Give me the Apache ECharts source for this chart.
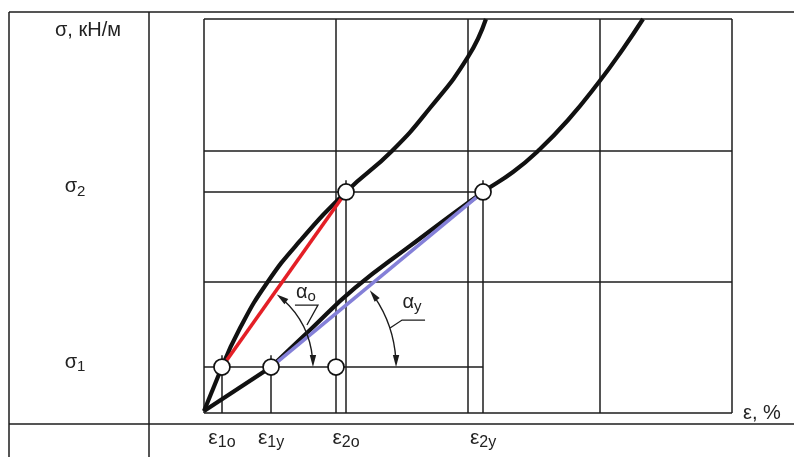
<!DOCTYPE html>
<html>
<head>
<meta charset="utf-8">
<script src="https://cdn.jsdelivr.net/npm/echarts@6/dist/echarts.min.js"></script>
<style>
html, body { margin: 0; padding: 0; background: #fff; }
#chart { width: 794px; height: 457px; }
</style>
</head>
<body>
<div id="chart"></div>
<script>
// grid units: 1 cell = 1 on each axis
var epsSubs = ['1o', '1y', '2o', '2y'];
var epsValues = [0.136, 0.508, 1.076, 2.114];
var sigmaSubs = ['1', '2'];
var sigmaValues = [0.35, 1.683];

var upperCurve = [[0, 0.015], [0.136, 0.35], [0.273, 0.647], [0.477, 0.99], [0.727, 1.31],
  [1.076, 1.683], [1.424, 1.995], [1.712, 2.322], [2.0, 2.711], [2.136, 3.0]];
var lowerCurve = [[0, 0.015], [0.508, 0.35], [0.803, 0.632], [1.144, 0.952], [1.561, 1.272],
  [2.114, 1.683], [2.341, 1.835], [2.53, 1.995], [2.758, 2.231], [2.992, 2.52],
  [3.174, 2.772], [3.326, 3.0]];

var secantO = [[0.136, 0.35], [1.076, 1.683]];
var secantY = [[0.508, 0.35], [2.114, 1.683]];
var markers = [[0.136, 0.35], [0.508, 0.35], [1.0, 0.35], [1.076, 1.683], [2.114, 1.683]];

// angle marks: vertex x, vertex y, point on secant x, y
var angleMarks = [[0.136, 0.35, 1.076, 1.683], [0.508, 0.35, 2.114, 1.683]];
var angleSubs = ['o', 'y'];

var INK = '#1c1c1c';
var FONT = 'Liberation Sans, Arial, sans-serif';
var tickExt = 0.09;

var guides = [
  [[0, sigmaValues[0]], [epsValues[3], sigmaValues[0]]],
  [[0, sigmaValues[1]], [epsValues[3], sigmaValues[1]]],
  [[epsValues[0], 0], [epsValues[0], sigmaValues[0] + tickExt]],
  [[epsValues[1], 0], [epsValues[1], sigmaValues[0] + tickExt]],
  [[epsValues[2], 0], [epsValues[2], sigmaValues[1] + tickExt]],
  [[epsValues[3], 0], [epsValues[3], sigmaValues[1] + tickExt]]
];

// pixel layout of angle arcs and their labels (relative to the vertex)
var arcLayout = [
  {r: 91, label: [84, -75], leader: [[73, -62], [96, -62], [85, -42]]},
  {r: 125, label: [141, -65], leader: [[154, -47], [131, -47], [119, -39]]}
];

var richSub = {
  a: {fontSize: 20, fontFamily: FONT, lineHeight: 26, color: '#222', fill: '#222'},
  s: {fontSize: 15, fontFamily: FONT, lineHeight: 26, padding: [10, 0, 0, 0], color: '#222', fill: '#222'}
};
var richAxisX = {
  a: {fontSize: 21, fontFamily: FONT, lineHeight: 26, color: '#222'},
  s: {fontSize: 16, fontFamily: FONT, lineHeight: 26, padding: [10, 0, 0, 0], color: '#222'}
};

function nearest(arr, v) {
  var best = 0;
  for (var i = 1; i < arr.length; i++) {
    if (Math.abs(arr[i] - v) < Math.abs(arr[best] - v)) best = i;
  }
  return best;
}

function arrowHead(tip, dir, len, half) {
  var bx = tip[0] - dir[0] * len, by = tip[1] - dir[1] * len;
  return [[tip[0], tip[1]], [bx - dir[1] * half, by + dir[0] * half], [bx + dir[1] * half, by - dir[0] * half]];
}

var chart = echarts.init(document.getElementById('chart'));

chart.setOption({
  animation: false,
  backgroundColor: '#fff',
  grid: {left: 204, right: 62, top: 19, bottom: 44, containLabel: false},
  xAxis: [{
    type: 'value', min: 0, max: 4, interval: 1,
    axisLine: {show: false}, axisTick: {show: false}, axisLabel: {show: false},
    splitLine: {show: true, lineStyle: {color: INK, width: 1.5}},
    name: 'ε, %', nameLocation: 'end', nameGap: 0,
    nameTextStyle: {fontSize: 20, fontFamily: FONT, color: '#222', align: 'center', verticalAlign: 'middle', padding: [58, 0, 0, 60]}
  }, {
    type: 'value', min: 0, max: 4, position: 'bottom',
    axisLine: {show: false}, axisTick: {show: false}, splitLine: {show: false},
    axisLabel: {
      show: true, customValues: epsValues, margin: 12,
      formatter: function (v) { return '{a|ε}{s|' + epsSubs[nearest(epsValues, v)] + '}'; },
      rich: richAxisX
    }
  }],
  yAxis: [{
    type: 'value', min: 0, max: 3, interval: 1,
    axisLine: {show: false}, axisTick: {show: false}, axisLabel: {show: false},
    splitLine: {show: true, lineStyle: {color: INK, width: 1.5}},
    name: 'σ, кН/м', nameLocation: 'end', nameGap: -11,
    nameTextStyle: {fontSize: 20, fontFamily: FONT, color: '#222', align: 'center', verticalAlign: 'middle', padding: [0, 232, 0, 0]}
  }, {
    type: 'value', min: 0, max: 3, position: 'left',
    axisLine: {show: false}, axisTick: {show: false}, splitLine: {show: false},
    axisLabel: {
      show: true, customValues: sigmaValues, margin: 129, align: 'center', padding: [0, 0, 10, 0],
      formatter: function (v) { return '{a|σ}{s|' + sigmaSubs[nearest(sigmaValues, v)] + '}'; },
      rich: richSub
    }
  }],
  graphic: [
    {type: 'line', shape: {x1: 9, y1: 12, x2: 794, y2: 12}, style: {stroke: INK, lineWidth: 1.5}},
    {type: 'line', shape: {x1: 9, y1: 12, x2: 9, y2: 457}, style: {stroke: INK, lineWidth: 1.5}},
    {type: 'line', shape: {x1: 149, y1: 12, x2: 149, y2: 457}, style: {stroke: INK, lineWidth: 1.5}},
    {type: 'line', shape: {x1: 9, y1: 424, x2: 794, y2: 424}, style: {stroke: INK, lineWidth: 1.5}}
  ],
  series: [
    {
      type: 'lines', coordinateSystem: 'cartesian2d', z: 1,
      lineStyle: {color: INK, width: 1.5, opacity: 1},
      data: guides.map(function (g) { return {coords: g}; })
    },
    {type: 'line', data: upperCurve.slice(0, 2), smooth: false, symbol: 'none', z: 3,
      lineStyle: {color: '#111', width: 4.2}},
    {type: 'line', data: upperCurve.slice(1), smooth: 0.5, symbol: 'none', z: 3,
      lineStyle: {color: '#111', width: 4.2}},
    {type: 'line', data: lowerCurve.slice(0, 2), smooth: false, symbol: 'none', z: 3,
      lineStyle: {color: '#111', width: 4.2}},
    {type: 'line', data: lowerCurve.slice(1), smooth: 0.5, symbol: 'none', z: 3,
      lineStyle: {color: '#111', width: 4.2}},
    {type: 'line', data: secantO, symbol: 'none', z: 4, lineStyle: {color: '#e41f26', width: 3.6}},
    {type: 'line', data: secantY, symbol: 'none', z: 4, lineStyle: {color: '#8480d8', width: 3.6}},
    {
      type: 'custom', z: 5, clip: false,
      data: angleMarks,
      renderItem: function (params, api) {
        var v = api.coord([api.value(0), api.value(1)]);
        var t = api.coord([api.value(2), api.value(3)]);
        var lay = arcLayout[params.dataIndex];
        var r = lay.r;
        var a = Math.atan2(v[1] - t[1], t[0] - v[0]) - 0.03;
        var top = [v[0] + r * Math.cos(a), v[1] - r * Math.sin(a)];
        var bottom = [v[0] + r, v[1]];
        var trim = 8 / r;
        return {
          type: 'group',
          children: [
            {type: 'arc', shape: {cx: v[0], cy: v[1], r: r, startAngle: -a + trim, endAngle: -trim, clockwise: true},
              style: {stroke: INK, lineWidth: 1.4, fill: 'none'}},
            {type: 'polygon', shape: {points: arrowHead(bottom, [0, 1], 12, 3.2)}, style: {fill: INK}},
            {type: 'polygon', shape: {points: arrowHead(top, [-Math.sin(a), -Math.cos(a)], 12, 3.2)}, style: {fill: INK}},
            {type: 'polyline', shape: {points: lay.leader.map(function (p) { return [v[0] + p[0], v[1] + p[1]]; })},
              style: {stroke: INK, lineWidth: 1.3, fill: 'none'}},
            {type: 'text', x: v[0] + lay.label[0], y: v[1] + lay.label[1],
              style: {text: '{a|α}{s|' + angleSubs[params.dataIndex] + '}', rich: richSub, fill: '#222',
                align: 'center', verticalAlign: 'middle'}}
          ]
        };
      }
    },
    {
      type: 'scatter', data: markers, z: 6, symbol: 'circle', symbolSize: 16,
      itemStyle: {color: '#fff', borderColor: '#111', borderWidth: 1.7, opacity: 1}
    }
  ]
});
</script>
</body>
</html>
